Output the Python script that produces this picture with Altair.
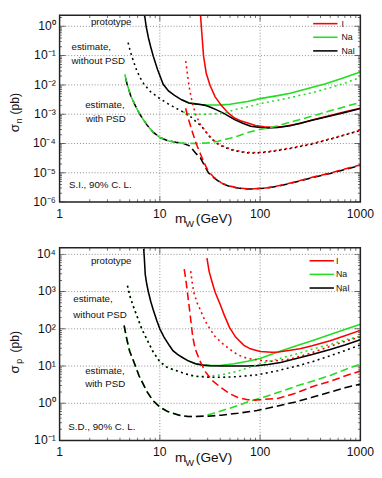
import math
import altair as alt
import pandas as pd

FONT = "Liberation Sans"

# ---------------- shared ----------------
mass_major = [1, 10, 100, 1000]
mass_labels = ["1", "10", "100", "1000"]
mass_minor = [2, 3, 4, 5, 6, 7, 8, 9, 20, 30, 40, 50, 60, 70, 80, 90,
              200, 300, 400, 500, 600, 700, 800, 900]
elements = ["I", "Na", "NaI"]
element_colors = ["#ff0000", "#22dd22", "#000000"]

# ---------------- top panel: spin independent (sigma_n, pb) ----------------
si_major = [1e-6, 1e-5, 1e-4, 1e-3, 1e-2, 1e-1, 1]
si_labels = ["10⁻⁶", "10⁻⁵", "10⁻⁴", "10⁻³", "10⁻²", "10⁻¹", "10⁰"]
si_minor = [k * 10.0 ** e for e in range(-6, 1) for k in range(2, 10)]

# prototype (solid)
si_nai_proto_m = [6.9, 7.1, 7.3, 7.7, 8.1, 8.6, 9.5, 10.8, 12.2, 14.0, 16.5, 19.5, 22.5, 25.4, 28.4,
                  32.5, 36.8, 44.0, 55.6, 68.0, 80.5, 100, 120, 150, 200, 330, 500, 700, 1000]
si_nai_proto_s = [4.0, 2.0, 1.0, 0.4, 0.2, 0.095, 0.033, 0.0105, 0.0062, 0.0044, 0.0031, 0.0024, 0.00225,
                  0.00215, 0.0020, 0.0017, 0.0014, 0.00105, 0.00065, 0.00048, 0.00039, 0.00035, 0.00034,
                  0.00035, 0.00040, 0.00062, 0.00087, 0.00115, 0.00155]
si_na_proto_m = [16.5, 19.5, 22.5, 25.4, 28.4, 33, 41, 50, 60, 75, 100, 150, 200, 300, 450, 650, 1000]
si_na_proto_s = [0.0031, 0.0024, 0.00225, 0.00215, 0.00208, 0.00205, 0.00208, 0.0022, 0.0024, 0.0027,
                 0.0034, 0.0043, 0.0052, 0.0075, 0.011, 0.0165, 0.0275]
si_i_proto_m = [25.4, 26.2, 27.3, 29.0, 31.7, 35.6, 41, 48, 55.6, 65, 75, 90, 110, 130, 170, 250, 330,
                500, 700, 1000]
si_i_proto_s = [2.6, 0.6, 0.095, 0.025, 0.0095, 0.0039, 0.002, 0.0011, 0.00074, 0.00058, 0.0005, 0.00041,
                0.00037, 0.00036, 0.00038, 0.00048, 0.00063, 0.0009, 0.0012, 0.0016]
# estimate without PSD (dotted)
si_nai_nopsd_m = [4.75, 5.0, 5.3, 5.6, 5.9, 6.4, 6.9, 8.0, 10, 12, 14.5, 17, 19.5, 21, 23, 25.4, 28, 30.5,
                  34, 38, 45, 55, 68, 80, 100, 130, 200, 330, 500, 700, 1000]
si_nai_nopsd_s = [0.34, 0.17, 0.085, 0.05, 0.03, 0.017, 0.011, 0.006, 0.0034, 0.0023, 0.0016, 0.0012,
                  0.0009, 0.00075, 0.00055, 0.00042, 0.00028, 0.00019, 0.00013, 0.000095, 0.000072,
                  0.000057, 0.00005, 0.000047, 0.000048, 0.000053, 0.000067, 0.000095, 0.00014,
                  0.000195, 0.00028]
si_na_nopsd_m = [17, 19.5, 23, 28, 33, 38, 45, 60, 87, 100, 150, 200, 330, 500, 700, 1000]
si_na_nopsd_s = [0.0012, 0.00102, 0.001, 0.001, 0.00102, 0.00105, 0.00115, 0.0015, 0.002, 0.0023,
                 0.003, 0.0037, 0.0054, 0.008, 0.0115, 0.018]
si_i_nopsd_m = [18.1, 18.8, 19.5, 20.2, 21, 22.7, 25.4, 28, 30.5, 34, 38, 45, 55, 68, 80, 100, 130, 200,
                330, 500, 700, 1000]
si_i_nopsd_s = [0.065, 0.025, 0.0095, 0.005, 0.0026, 0.001, 0.00044, 0.00029, 0.000195, 0.000135, 0.0001,
                0.000075, 0.00006, 0.000052, 0.000049, 0.00005, 0.000055, 0.00007, 0.0001, 0.000145,
                0.0002, 0.00029]
# estimate with PSD (dashed)
si_nai_psd_m = [4.47, 4.7, 5.1, 5.6, 6.3, 7.4, 8.5, 10, 12, 14.5, 17, 19.5, 21, 23, 25.4, 28, 30.5, 35,
                41, 50, 60, 75, 87, 100, 117, 170, 250, 330, 500, 700, 1000]
si_nai_psd_s = [0.023, 0.011, 0.0044, 0.0022, 0.001, 0.00044, 0.00025, 0.00016, 0.000125, 0.00011,
                0.000102, 0.000085, 0.000065, 0.000045, 0.000032, 0.000017, 0.00001, 0.0000065,
                0.0000044, 0.0000034, 0.000003, 0.0000028, 0.0000028, 0.0000029, 0.000003, 0.0000038,
                0.0000053, 0.0000068, 0.0000095, 0.000013, 0.000018]
si_na_psd_m = [4.47, 4.7, 5.1, 5.6, 6.3, 7.4, 8.5, 10, 12, 14.5, 17, 22.7, 30, 38, 50, 60, 80, 100, 131,
               200, 320, 500, 700, 1000]
si_na_psd_s = [0.023, 0.011, 0.0044, 0.0022, 0.001, 0.00044, 0.00025, 0.00016, 0.000125, 0.00011,
               0.000102, 0.0001, 0.000105, 0.00012, 0.00015, 0.00018, 0.00025, 0.0003, 0.00036,
               0.00053, 0.00083, 0.0013, 0.0018, 0.0025]
si_i_psd_m = [18.1, 19, 20, 21, 23, 25.4, 28, 30.5, 35, 41, 50, 60, 75, 87, 100, 117, 170, 250, 330, 500,
              700, 1000]
si_i_psd_s = [0.0016, 0.0008, 0.00045, 0.00026, 0.0001, 0.000044, 0.00002, 0.000011, 0.0000068,
              0.0000045, 0.0000035, 0.00000305, 0.00000285, 0.00000285, 0.00000295, 0.00000305,
              0.0000039, 0.0000054, 0.000007, 0.0000098, 0.0000135, 0.0000185]

si_notes = ["prototype", "estimate,", "without PSD", "estimate,", "with PSD", "S.I., 90% C. L."]

# ---------------- bottom panel: spin dependent (sigma_p, pb) ----------------
sd_major = [1e-1, 1, 10, 100, 1e3, 1e4]
sd_labels = ["10⁻¹", "10⁰", "10¹", "10²", "10³", "10⁴"]
sd_minor = [k * 10.0 ** e for e in range(-1, 5) for k in range(2, 10)]

sd_nai_proto_m = [6.9, 7.0, 7.15, 7.4, 7.7, 8.1, 8.6, 9.3, 10, 11, 12.5, 13.5, 15, 16.8, 19, 22.7, 27, 32,
                  41, 55, 75, 93, 120, 160, 230, 330, 500, 700, 1000]
sd_nai_proto_s = [14000, 8000, 2900, 1600, 960, 550, 320, 170, 100, 60, 35, 26, 20.5, 17, 14, 11.5, 10.6,
                  10.2, 10, 10, 10, 10.3, 11, 12.5, 16, 20.5, 28, 37, 51]
sd_na_proto_m = [19, 22.7, 27, 32, 41, 55, 75, 100, 150, 230, 330, 500, 700, 1000]
sd_na_proto_s = [14, 11.5, 10.6, 10.3, 10.5, 11.5, 13.5, 16, 24, 35, 48, 70, 96, 132]
sd_i_proto_m = [29.5, 31, 33, 35.6, 40, 44, 49.5, 57, 69, 80, 100, 130, 152, 200, 250, 330, 500, 700, 1000]
sd_i_proto_s = [7900, 3500, 1900, 960, 450, 230, 110, 60, 36, 29, 24.5, 23.5, 24, 26.5, 29, 35, 48, 65, 91]

sd_nai_nopsd_m = [4.75, 5.0, 5.4, 5.94, 6.6, 7.4, 8.5, 10, 12, 15.6, 19, 22.7, 30, 41, 60, 93, 150, 230,
                  330, 500, 700, 1000]
sd_nai_nopsd_s = [1440, 800, 420, 215, 100, 53, 25, 13, 9, 7.1, 5.9, 5.3, 5.0, 5.0, 5.2, 5.8, 7.5, 10,
                  13, 19, 26, 37]
sd_na_nopsd_m = [4.75, 5.0, 5.4, 5.94, 6.6, 7.4, 8.5, 10, 12, 15.6, 19, 22.7, 30, 41, 60, 93, 150, 230,
                 330, 500, 700, 1000]
sd_na_nopsd_s = [1440, 800, 420, 215, 100, 53, 25, 13, 9, 7.1, 5.9, 5.3, 5.3, 5.8, 7.3, 10.8, 15.5, 21,
                 28.5, 38, 50, 64]
sd_i_nopsd_m = [20.3, 21, 21.8, 23.5, 25.4, 28, 30.5, 35, 41, 50, 60, 75, 100, 130, 200, 300, 500, 700, 1000]
sd_i_nopsd_s = [3550, 1800, 960, 500, 320, 170, 117, 65, 43, 28, 20, 16, 14.3, 13.5, 15.5, 21, 34, 46, 61]

sd_nai_psd_m = [4.4, 4.7, 5.0, 5.5, 6.2, 7.4, 8.5, 10, 12, 15.6, 19, 22.7, 30, 41, 60, 93, 150, 230, 330,
                500, 700, 1000]
sd_nai_psd_s = [123, 50, 25, 13, 5.5, 2.1, 1.2, 0.79, 0.6, 0.48, 0.44, 0.44, 0.45, 0.48, 0.54, 0.64, 0.85,
                1.1, 1.45, 2.0, 2.6, 3.3]
sd_na_psd_m = [4.4, 4.7, 5.0, 5.5, 6.2, 7.4, 8.5, 10, 12, 15.6, 19, 22.7, 28.4, 35, 45, 60, 80, 108, 150,
               230, 330, 500, 700, 1000]
sd_na_psd_s = [123, 50, 25, 13, 5.5, 2.1, 1.2, 0.79, 0.6, 0.48, 0.44, 0.44, 0.47, 0.55, 0.68, 0.87, 1.15,
               1.45, 1.95, 2.9, 3.9, 5.6, 8, 11.3]
sd_i_psd_m = [17.5, 18.2, 18.8, 19.6, 20.3, 21.3, 22.5, 25, 28.4, 33, 41, 50, 60, 75, 87, 100, 150, 230,
              330, 500, 700, 1000]
sd_i_psd_s = [4000, 2000, 1000, 400, 180, 60, 29, 14, 7.1, 4.2, 2.6, 1.8, 1.43, 1.25, 1.22, 1.25, 1.35,
              1.9, 2.8, 3.9, 5.4, 7.4]

sd_notes = ["prototype", "estimate,", "without PSD", "estimate,", "with PSD", "S.D., 90% C. L."]

# ---------------- styling ----------------
W = 309
DOT = [2, 3.5]
DASH = [8, 4]
COLOR = alt.Scale(domain=elements, range=element_colors)
TXT = "#111111"
GRID = "#8a8a8a"


def panel(curves, ydom, H, ymajor, ylabels, yminor, notes, note_pos, sub, title_y, legend_xy,
          label_off):
    xs = alt.Scale(type="log", domain=[1, 1000], nice=False)
    ys = alt.Scale(type="log", domain=ydom, nice=False)

    def X(f):
        return alt.X(f, scale=xs, axis=None)

    def Y(f):
        return alt.Y(f, scale=ys, axis=None)

    layers = []
    # dotted grid at decades
    layers.append(alt.Chart(pd.DataFrame({"v": mass_major[1:-1]})).mark_rule(
        color=GRID, strokeWidth=1, strokeDash=[1, 2]).encode(
        x=X("v:Q"), y=alt.value(0), y2=alt.value(H)))
    layers.append(alt.Chart(pd.DataFrame({"v": ymajor[1:]})).mark_rule(
        color=GRID, strokeWidth=1, strokeDash=[1, 2]).encode(
        y=Y("v:Q"), x=alt.value(0), x2=alt.value(W)))

    # inward ticks on all four sides
    def xt(vals, size, ypos):
        return alt.Chart(pd.DataFrame({"v": vals})).mark_tick(
            clip=True, size=size, thickness=1, color="#333333", orient="vertical").encode(
            x=X("v:Q"), y=alt.value(ypos))

    def yt(vals, size, xpos):
        return alt.Chart(pd.DataFrame({"v": vals})).mark_tick(
            clip=True, size=size, thickness=1, color="#333333", orient="horizontal").encode(
            y=Y("v:Q"), x=alt.value(xpos))

    layers += [xt(mass_major, 12, H), xt(mass_major, 12, 0), xt(mass_minor, 6, H),
               xt(mass_minor, 6, 0), yt(ymajor, 12, 0), yt(ymajor, 12, W),
               yt(yminor, 5, 0), yt(yminor, 5, W)]

    # tick labels
    layers.append(alt.Chart(pd.DataFrame({"v": mass_major, "t": mass_labels})).mark_text(
        align="center", baseline="middle", fontSize=12.5, font=FONT, color=TXT).encode(
        x=X("v:Q"), y=alt.value(H + 12), text="t:N"))
    layers.append(alt.Chart(pd.DataFrame({"v": ymajor, "t": ylabels})).mark_text(
        align="right", baseline="middle", fontSize=12.5, font=FONT, color=TXT).encode(
        y=Y("v:Q"), x=alt.value(-4), text="t:N"))

    leg = alt.Legend(title=None, orient="none", legendX=legend_xy[0], legendY=legend_xy[1],
                     symbolType="M-2.5,0H2.5", symbolSize=100, symbolStrokeWidth=1.6,
                     labelFontSize=9, labelFont=FONT, labelColor=TXT, labelOffset=label_off,
                     rowPadding=3, padding=0)

    for m, s, el, dash, off, with_leg in curves:
        mk = dict(clip=True, strokeWidth=1.6)
        if dash:
            mk["strokeDash"] = dash
        if off:
            mk["strokeDashOffset"] = off
        df = pd.DataFrame({"m": m, "s": s, "el": el})
        layers.append(alt.Chart(df).mark_line(**mk).encode(
            x=X("m:Q"), y=Y("s:Q"),
            color=alt.Color("el:N", scale=COLOR, legend=leg if with_leg else None)))

    for t, (px, py, al) in zip(notes, note_pos):
        layers.append(alt.Chart(pd.DataFrame({"t": [t]})).mark_text(
            align=al, baseline="middle", fontSize=10, font=FONT, color=TXT).encode(
            x=alt.XDatum(px, type="quantitative", scale=xs, axis=None),
            y=alt.YDatum(py, type="quantitative", scale=ys, axis=None),
            text="t:N"))

    # plot frame
    layers.append(alt.Chart(pd.DataFrame({"k": [0]})).mark_rect(
        filled=False, stroke="#222222", strokeWidth=1.5).encode(
        x=alt.value(0), x2=alt.value(W), y=alt.value(0), y2=alt.value(H)))

    # axis titles drawn as text so that subscripts are possible
    def lab(t, x, y, size, angle=0, align="center", baseline="alphabetic"):
        return alt.Chart(pd.DataFrame({"t": [t]})).mark_text(
            align=align, baseline=baseline, fontSize=size, font=FONT, color=TXT, angle=angle).encode(
            x=alt.value(x), y=alt.value(y), text="t:N")

    yc = title_y
    layers += [
        lab("σ", -41.2, yc[0], 13.5, angle=270),
        lab(sub, -38.3, yc[1], 9, angle=270),
        lab("(pb)", -41.2, yc[2], 12.5, angle=270),
        lab("m", 124.5, H + 22, 14),
        lab("W", 133.5, H + 26, 9.5),
        lab("(GeV)", 140, H + 22, 14, align="left"),
    ]
    return alt.layer(*layers).properties(width=W, height=H)


top = panel(
    curves=[
        (si_na_proto_m, si_na_proto_s, "Na", None, None, True),
        (si_i_proto_m, si_i_proto_s, "I", None, None, True),
        (si_nai_proto_m, si_nai_proto_s, "NaI", None, None, True),
        (si_nai_nopsd_m, si_nai_nopsd_s, "NaI", DOT, 2.75, False),
        (si_i_nopsd_m, si_i_nopsd_s, "I", DOT, None, False),
        (si_na_nopsd_m, si_na_nopsd_s, "Na", DOT, None, False),
        (si_nai_psd_m, si_nai_psd_s, "NaI", DASH, 8, False),
        (si_na_psd_m, si_na_psd_s, "Na", DASH, None, False),
        (si_i_psd_m, si_i_psd_s, "I", DASH, None, False),
    ],
    ydom=[1e-6, 2.4], H=192, ymajor=si_major, ylabels=si_labels, yminor=si_minor,
    notes=si_notes,
    note_pos=[(3.27, 1.40, "center"), (1.317, 0.196, "left"), (1.317, 0.0656, "left"),
              (1.80, 2.1e-3, "left"), (1.83, 6.67e-4, "left"), (1.242, 3.67e-6, "left")],
    sub="n", title_y=[116, 108.5, 91], legend_xy=[267, 2.7], label_off=10.5)

bottom = panel(
    curves=[
        (sd_na_proto_m, sd_na_proto_s, "Na", None, None, True),
        (sd_i_proto_m, sd_i_proto_s, "I", None, None, True),
        (sd_nai_proto_m, sd_nai_proto_s, "NaI", None, None, True),
        (sd_na_nopsd_m, sd_na_nopsd_s, "Na", DOT, None, False),
        (sd_i_nopsd_m, sd_i_nopsd_s, "I", DOT, None, False),
        (sd_nai_nopsd_m, sd_nai_nopsd_s, "NaI", DOT, None, False),
        (sd_na_psd_m, sd_na_psd_s, "Na", DASH, None, False),
        (sd_i_psd_m, sd_i_psd_s, "I", DASH, None, False),
        (sd_nai_psd_m, sd_nai_psd_s, "NaI", DASH, None, False),
    ],
    ydom=[0.1, 15000], H=198, ymajor=sd_major, ylabels=sd_labels, yminor=sd_minor,
    notes=sd_notes,
    note_pos=[(3.27, 6500, "center"), (1.37, 611, "left"), (1.37, 238, "left"),
              (1.80, 7.4, "left"), (1.80, 3.19, "left"), (1.223, 0.226, "left")],
    sub="p", title_y=[125, 116.5, 96.5], legend_xy=[263.3, 7.3], label_off=8.7)

chart = alt.vconcat(top, bottom, spacing=18).resolve_scale(color="independent").properties(
    padding={"left": 0, "top": 0, "right": 0, "bottom": 0}
).configure_view(strokeWidth=0)

chart.save("out.html", embed_options={"renderer": "svg", "actions": False})
